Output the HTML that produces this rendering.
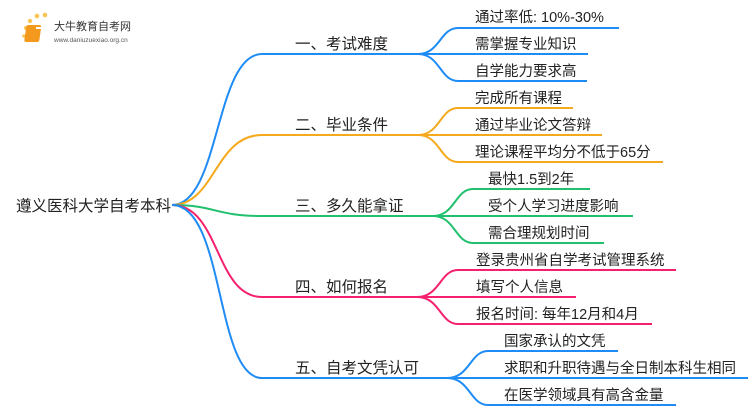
<!DOCTYPE html>
<html><head><meta charset="utf-8"><style>
html,body{margin:0;padding:0;background:#fff;}
svg text{font-family:"Liberation Sans","Noto Sans CJK SC",sans-serif;fill:#222;}
</style></head><body>
<svg width="750" height="410" viewBox="0 0 750 410" xmlns="http://www.w3.org/2000/svg">
<g fill="none" stroke-width="2">
<g stroke="#1f8cf5">
<path d="M172,205 C220,205 215,54 262,54 L418,54"/>
<path d="M418,54 C440,54 440,28 458,28 L619,28"/>
<path d="M418,54 L588,54"/>
<path d="M418,54 C440,54 440,81 458,81 L587,81"/>
</g>
<g stroke="#f5a91c">
<path d="M172,205 C215,205 215,135 262,135 L418,135"/>
<path d="M418,135 C440,135 440,108 458,108 L573,108"/>
<path d="M418,135 L602,135"/>
<path d="M418,135 C440,135 440,162 458,162 L663,162"/>
</g>
<g stroke="#20c06e">
<path d="M172,205 C215,205 215,216 262,216 L433,216"/>
<path d="M433,216 C455,216 455,189 473,189 L590,189"/>
<path d="M433,216 L633,216"/>
<path d="M433,216 C455,216 455,243 473,243 L604,243"/>
</g>
<g stroke="#f5216e">
<path d="M172,205 C220,205 215,297 262,297 L417,297"/>
<path d="M417,297 C440,297 440,270 458,270 L676,270"/>
<path d="M417,297 L576,297"/>
<path d="M417,297 C440,297 440,324 458,324 L652,324"/>
</g>
<g stroke="#1f8cf5">
<path d="M172,205 C225,205 215,378 262,378 L447,378"/>
<path d="M447,378 C470,378 470,351 488,351 L618,351"/>
<path d="M447,378 L748,378"/>
<path d="M447,378 C470,378 470,405 488,405 L676,405"/>
</g>
</g>
<g>
<circle cx="26" cy="28" r="2" fill="#f7c652"/><circle cx="30" cy="21" r="2.2" fill="#f7c652"/><circle cx="37" cy="16" r="2.3" fill="#f7c652"/><circle cx="45" cy="15" r="2.3" fill="#f7c652"/><circle cx="24" cy="36" r="1.8" fill="#f7c652"/>
<rect x="30" y="25" width="15" height="17" rx="2" fill="#f39a1e" transform="skewX(-8)"/>
<rect x="36" y="27" width="8" height="2" fill="#fff"/>
<text x="54" y="30" font-size="11" style="fill:#333">大牛教育自考网</text>
<text x="54" y="42" font-size="6.5" style="fill:#555">www.daniuzuexiao.org.cn</text>
</g>
<g font-size="15.5">
<text x="16" y="211">遵义医科大学自考本科</text>
<text x="295" y="49">一、考试难度</text>
<text x="295" y="130">二、毕业条件</text>
<text x="295" y="211">三、多久能拿证</text>
<text x="295" y="292">四、如何报名</text>
<text x="295" y="373">五、自考文凭认可</text>
</g>
<g font-size="14.5">
<text x="475" y="22">通过率低: 10%-30%</text>
<text x="475" y="49">需掌握专业知识</text>
<text x="475" y="76">自学能力要求高</text>
<text x="475" y="103">完成所有课程</text>
<text x="475" y="130">通过毕业论文答辩</text>
<text x="475" y="157">理论课程平均分不低于65分</text>
<text x="488" y="184">最快1.5到2年</text>
<text x="488" y="211">受个人学习进度影响</text>
<text x="488" y="238">需合理规划时间</text>
<text x="476" y="265">登录贵州省自学考试管理系统</text>
<text x="476" y="292">填写个人信息</text>
<text x="476" y="319">报名时间: 每年12月和4月</text>
<text x="504" y="346">国家承认的文凭</text>
<text x="504" y="373">求职和升职待遇与全日制本科生相同</text>
<text x="504" y="400">在医学领域具有高含金量</text>
</g>
</svg>
</body></html>
